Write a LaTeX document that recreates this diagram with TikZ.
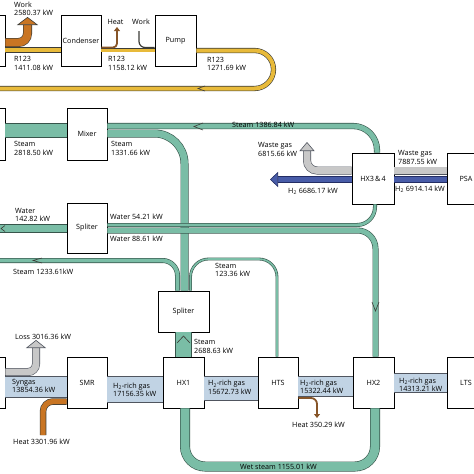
\documentclass[tikz,border=0pt]{standalone}
\usepackage{fontspec}
\setmainfont{Open Sans}
\usepackage{tikz}
\usetikzlibrary{arrows.meta}
\definecolor{darkline}{RGB}{60,60,55}
\definecolor{rfill}{RGB}{232,186,58}
\definecolor{workfill}{RGB}{201,117,35}
\definecolor{heatcol}{RGB}{135,85,40}
\definecolor{steamfill}{RGB}{122,189,166}
\definecolor{steamline}{RGB}{55,85,75}
\definecolor{gasfill}{RGB}{193,211,228}
\definecolor{gasline}{RGB}{80,85,95}
\definecolor{wastefill}{RGB}{200,200,200}
\definecolor{htwofill}{RGB}{72,92,168}
\definecolor{htwoline}{RGB}{35,45,100}

\begin{document}
\begin{tikzpicture}[x=1pt,y=-1pt,
  every node/.style={font=\fontsize{7.2}{8.6}\selectfont,inner sep=0pt},
  box/.style={draw,fill=white,line width=0.6pt,minimum width=40,minimum height=51},
  lbl/.style={align=left,anchor=west},
  rpipe/.style={draw=darkline,line width=0.6pt,double=rfill,double distance=#1},
  work/.style={draw=darkline,line width=0.6pt,double=workfill,double distance=#1},
  steam/.style={draw=steamline,line width=0.6pt,double=steamfill,double distance=#1},
  gas/.style={draw=gasline,line width=0.6pt,double=gasfill,double distance=#1},
  waste/.style={draw=gasline,line width=0.6pt,double=wastefill,double distance=#1},
  htwo/.style={draw=htwoline,line width=0.6pt,double=htwofill,double distance=#1},
  heat/.style={draw=heatcol,line width=1.8pt,-{Triangle[width=6pt,length=4pt]}},
  chev/.style={draw=darkline,line width=0.6pt}]
%
\useasboundingbox (0,0) rectangle (474,474);
\clip (0,0) rectangle (474,474);
%
\node[box] (turb) at (-15,40.5) {};
\node[box] (cond) at (81,40.5) {Condenser};
\node[box,minimum width=41] (pump) at (175.5,40.5) {Pump};
\node[box,minimum height=52] (evap) at (-15,134) {};
\node[box,minimum height=52] (mixer) at (87,134) {Mixer};
\node[box,minimum height=50] (split1) at (87,228) {Spliter};
\node[box,minimum width=51,minimum height=41] (split2) at (183.5,311.5) {Spliter};
\node[box,minimum width=42] (hx34) at (373,178.5) {HX3\,\&\,4};
\node[box,minimum width=38] (psa) at (466,178.5) {PSA};
\node[box] (ref) at (-15,382.5) {};
\node[box] (smr) at (87,382.5) {SMR};
\node[box,minimum width=41] (hx1) at (183.5,382.5) {HX1};
\node[box] (hts) at (278,382.5) {HTS};
\node[box,minimum width=41] (hx2) at (373.5,382.5) {HX2};
\node[box,minimum width=38] (lts) at (466,382.5) {LTS};
%
\coordinate (worktip) at (27.5,17);
\coordinate (rend) at (-5,88.5);
\coordinate (heattipa) at (117,27);
\coordinate (workin) at (139,31);
\draw[work=7.8pt,rounded corners=9,-{Triangle[width=21pt,length=8pt,fill=workfill]}] (turb.east |- 0,42.5) -| (worktip);
\draw[rpipe=4pt] (turb.east |- 0,50) -- (cond.west |- 0,50);
\draw[rpipe=3pt] (cond.east |- 0,50) -- (pump.west |- 0,50);
\draw[rpipe=4pt,rounded corners=19] (pump.east |- 0,50.5) -- (273.5,50.5) -- (273.5,88.5) -- (rend);
\draw[heat,rounded corners=4] (cond.east |- 0,47.5) -| (heattipa);
\draw[darkline,line width=1.2pt,rounded corners=6] (workin) |- (pump.west |- 0,47.5);
\draw[chev] (205,86) -- (198,88.5) -- (205,91);
%
\coordinate (sout) at (-5,260.5);
\coordinate (waterin) at (-5,228.5);
\draw[steam=13.8pt] (evap.east |- 0,130.5) -- (mixer.west |- 0,130.5);
\draw[steam=5pt,rounded corners=24] (hx34.north -| 377,0) -- (377,126) -- (mixer.east |- 0,126);
\draw[steam=6.8pt,rounded corners=30] (split2.north -| 184.5,0) -- (184.5,133.5) -- (mixer.east |- 0,133.5);
\draw[steam=3.8pt,rounded corners=15] (split2.north -| 177.5,0) -- (177.5,260.5) -- (sout);
\draw[steam=1.6pt,rounded corners=18] (split2.north -| 190.5,0) -- (190.5,259) -- (277,259) -- (hts.north -| 277,0);
\draw[steam=15.5pt] (hx1.north) -- (split2.south);
\draw[steam=7.8pt] (waterin) -- (split1.west |- waterin);
\draw[steam=2.8pt,rounded corners=18] (split1.east |- 0,225) -- (375,225) -- (hx34.south -| 375,0);
\draw[steam=4.8pt,rounded corners=18] (split1.east |- 0,230.5) -- (375.5,230.5) -- (hx2.north -| 375.5,0);
\draw[chev] (203,123) -- (194,126.5) -- (203,130);
\draw[chev] (42,258) -- (33,260.5) -- (42,263);
\draw[chev] (5,225.5) -- (1,228.5) -- (5,231.5);
\draw[chev] (177,343) -- (183.5,336) -- (190,343);
\draw[chev] (372,302) -- (375.5,311) -- (379,302);
%
\coordinate (htwotip) at (270,179.5);
\coordinate (wastetip) at (307,142);
\draw[waste=6.8pt] (psa.west |- 0,170.5) -- (hx34.east |- 0,170.5);
\draw[htwo=5.8pt] (psa.west |- 0,179.5) -- (hx34.east |- 0,179.5);
\draw[htwo=5.8pt,-{Triangle[width=15pt,length=8pt,fill=htwofill]}] (hx34.west |- 0,179.5) -- (htwotip);
\draw[waste=6.8pt,rounded corners=10,-{Triangle[width=15pt,length=9pt,fill=wastefill]}] (hx34.west |- 0,170.5) -| (wastetip);
%
\coordinate (losstip) at (36,340);
\coordinate (heatin) at (43,435);
\coordinate (heattipb) at (317,418);
\draw[waste=6.8pt,rounded corners=8,-{Triangle[width=20pt,length=8pt,fill=wastefill]}] (ref.east |- 0,372) -| (losstip);
\draw[gas=20.8pt] (ref.east |- 0,387) -- (smr.west |- 0,387);
\draw[work=5.3pt,rounded corners=10] (heatin) |- (smr.west |- 0,401.5);
\draw[gas=25.8pt] (smr.east |- 0,389.5) -- (hx1.west |- 0,389.5);
\draw[gas=23.8pt] (hx1.east |- 0,388.5) -- (hts.west |- 0,388.5);
\draw[gas=19.8pt] (hts.east |- 0,386.5) -- (hx2.west |- 0,386.5);
\draw[gas=18.8pt] (hx2.east |- 0,383) -- (lts.west |- 0,383);
\draw[heat,rounded corners=6] (hts.east |- 0,398) -| (heattipb);
\draw[steam=8.8pt,rounded corners=20] (hx2.south -| 375,0) -- (375,466.5) -- (185,466.5) -- (hx1.south -| 185,0);
%
\node[lbl] (lwork) at (14,9) {Work\\2580.37 kW};
\node[lbl] (lra) at (14,63.5) {R123\\1411.08 kW};
\node (lheat) at (115.5,22) {Heat};
\node (lworkb) at (141,22) {Work};
\node[lbl] (lrb) at (108,63.5) {R123\\1158.12 kW};
\node[lbl] (lrc) at (207,64) {R123\\1271.69 kW};
\node[lbl] (lsteama) at (14,148.5) {Steam\\2818.50 kW};
\node[lbl] (lsteamb) at (111,148.5) {Steam\\1331.66 kW};
\node[lbl] (lsteamc) at (232,125) {Steam 1386.84 kW};
\node[lbl] (lwastea) at (258,149.5) {Waste gas\\6815.66 kW};
\node[lbl] (lwasteb) at (398,157.5) {Waste gas\\7887.55 kW};
\node[lbl] (lhtwoa) at (288,191) {H\textsubscript{2} 6686.17 kW};
\node[lbl] (lhtwob) at (395,189) {H\textsubscript{2} 6914.14 kW};
\node[lbl] (lwatera) at (15,215) {Water\\142.82 kW};
\node[lbl] (lwaterb) at (110,217) {Water 54.21 kW};
\node[lbl] (lwaterc) at (110,239) {Water 88.61 kW};
\node[lbl] (lsteamd) at (13,272) {Steam 1233.61kW};
\node[lbl] (lsteame) at (215,270) {Steam\\123.36 kW};
\node[lbl] (lsteamf) at (194,346.5) {Steam\\2688.63 kW};
\node[lbl] (lloss) at (15,337) {Loss 3016.36 kW};
\node[lbl] (lsyngas) at (12,386) {Syngas\\13854.36 kW};
\node[lbl] (lheata) at (13,442) {Heat 3301.96 kW};
\node[lbl] (lgasa) at (113,390) {H\textsubscript{2}-rich gas\\17156.35 kW};
\node[lbl] (lgasb) at (208,387.5) {H\textsubscript{2}-rich gas\\15672.73 kW};
\node[lbl] (lgasc) at (300,387) {H\textsubscript{2}-rich gas\\15322.44 kW};
\node[lbl] (lgasd) at (399,385) {H\textsubscript{2}-rich gas\\14313.21 kW};
\node[lbl] (lheatb) at (292,425) {Heat 350.29 kW};
\node[lbl] (lwet) at (240,467) {Wet steam 1155.01 kW};
%
\end{tikzpicture}
\end{document}
